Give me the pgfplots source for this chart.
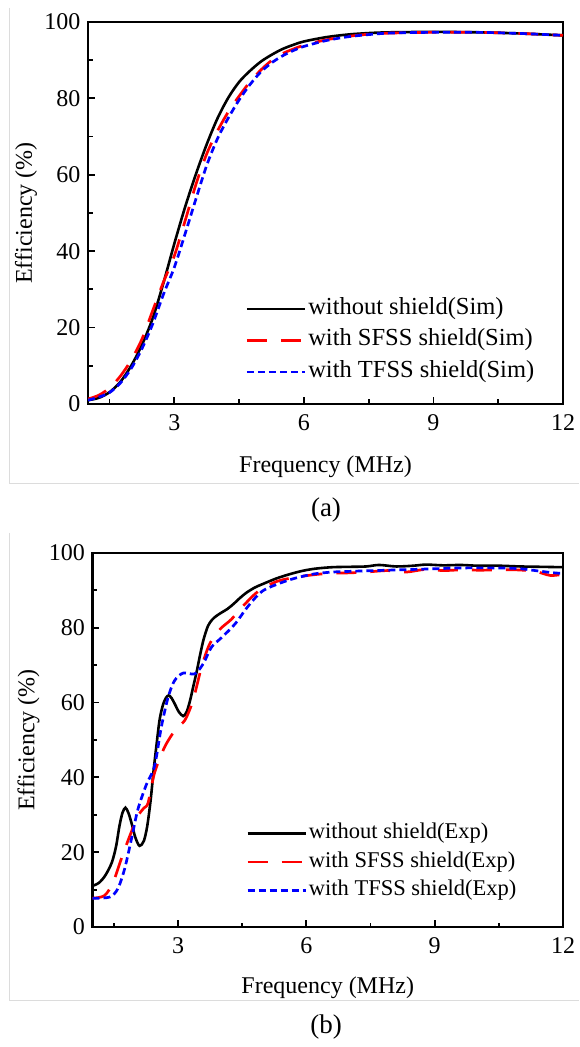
\documentclass[border=0pt]{standalone}
\usepackage{fontspec}
\setmainfont{Liberation Serif}
\usepackage{pgfplots}
\pgfplotsset{compat=1.18}
\definecolor{framegray}{RGB}{220,220,220}
\pgfplotsset{
 effax/.style={
  scale only axis, xmin=1, xmax=12, ymin=0, ymax=100,
  xtick={3,6,9,12}, ytick={0,20,...,100},
  minor xtick={1.5,4.5,7.5,10.5}, minor ytick={10,30,50,70,90},
  xtick pos=lower, ytick pos=lower,
  tick align=inside, major tick length=7pt, minor tick length=4.5pt,
  every tick/.style={black, line width=1.8pt},
  axis line style={line width=2.8pt},
  tick label style={font=\fontsize{24}{28}\selectfont},
  xticklabel style={yshift=-7pt},
  yticklabel style={xshift=-4pt},
  /pgf/number format/assume math mode=true,
  label style={font=\fontsize{24}{28}\selectfont},
  xlabel={Frequency (MHz)}, ylabel={Efficiency (\%)},
  legend cell align=left,
  legend image code/.code={\draw[##1] (0pt,0pt) -- (58pt,0pt);},
 },
 blk/.style={black, line width=2.6pt, smooth},
 rd/.style={red, line width=2.7pt, smooth, dash pattern=on 20pt off 14pt},
 bl/.style={blue, line width=2.7pt, smooth, dash pattern=on 7pt off 4pt},
}
\begin{document}
\begin{tikzpicture}
\path (0pt,0pt) rectangle (579pt,1047pt);
% panel frames
\draw[framegray, line width=0.8pt] (9pt,1039pt) -- (9pt,564pt) -- (579pt,564pt);
\draw[framegray, line width=0.8pt] (9pt,514pt) -- (9pt,47pt) -- (579pt,47pt);
\node[font=\fontsize{27}{30}\selectfont] at (326pt,537pt) {(a)};
\node[font=\fontsize{27}{30}\selectfont] at (326pt,20pt) {(b)};

\begin{axis}[effax, width=475pt, height=382pt, at={(88pt,643pt)}, anchor=south west,
  xlabel style={at={([yshift=-63pt]axis description cs:0.5,0)}, anchor=center},
  ylabel style={at={([xshift=-62pt]axis description cs:0,0.5)}, anchor=center},
  legend style={draw=none, fill=none, at={(rel axis cs:0.325,0.29)}, anchor=north west,
    font=\fontsize{24.5}{28}\selectfont, row sep=4.5pt,
    nodes={inner ysep=2pt, text height=17pt, text depth=6pt}},
]
\addplot[blk] coordinates {(1.0,1.0) (1.25,1.6) (1.5,3.1) (1.75,5.8) (2.0,10) (2.25,15.5) (2.5,22.5) (2.75,31.8) (3.0,42) (3.25,51.6) (3.5,60.2) (3.75,68.0) (4.0,74.8) (4.25,80.2) (4.5,84.3) (4.75,87.2) (5.0,89.6) (5.25,91.4) (5.5,92.9) (5.75,94.0) (6.0,94.9) (6.5,96.0) (7.0,96.7) (7.5,97.1) (8.0,97.3) (9.0,97.4) (10.0,97.3) (11.0,97.0) (12.0,96.5)};
\addlegendentry{without shield(Sim)}
\addplot[rd] coordinates {(1.0,1.3) (1.25,2.3) (1.5,4.2) (1.75,7.3) (2.0,11.5) (2.25,17) (2.5,24.5) (2.75,32) (3.0,38.8) (3.25,48) (3.5,57.5) (3.75,65.5) (4.0,71.5) (4.25,76.5) (4.5,80.6) (4.75,84.3) (5.0,87.4) (5.25,89.9) (5.5,91.7) (5.75,92.9) (6.0,93.9) (6.5,95.3) (7.0,96.2) (7.5,96.8) (8.0,97.1) (9.0,97.3) (10.0,97.3) (11.0,97.0) (12.0,96.5)};
\addlegendentry{with SFSS shield(Sim)}
\addplot[bl] coordinates {(1.0,1.0) (1.25,1.8) (1.5,3.0) (1.75,5.5) (2.0,9.3) (2.25,14.5) (2.5,21) (2.75,28.8) (3.0,35.8) (3.25,44.6) (3.5,53.7) (3.75,62.5) (4.0,69.5) (4.25,74.9) (4.5,79.6) (4.75,83.6) (5.0,86.9) (5.25,89.3) (5.5,91.1) (5.75,92.5) (6.0,93.6) (6.5,95.1) (7.0,96.1) (7.5,96.7) (8.0,97.1) (9.0,97.3) (10.0,97.3) (11.0,97.0) (12.0,96.5)};
\addlegendentry{with TFSS shield(Sim)}
\end{axis}

\begin{axis}[effax, width=470.5pt, height=374pt, at={(92.5pt,120pt)}, anchor=south west,
  xlabel style={at={([yshift=-61pt]axis description cs:0.5,0)}, anchor=center},
  ylabel style={at={([xshift=-64pt]axis description cs:0,0.5)}, anchor=center},
  legend style={draw=none, fill=none, at={(rel axis cs:0.32,0.29)}, anchor=north west,
    font=\fontsize{22.5}{26}\selectfont, row sep=3pt,
    nodes={inner ysep=2pt, text height=16pt, text depth=5.5pt}},
]
\addplot[blk] coordinates {(1.0,11) (1.15,11.8) (1.3,13.8) (1.45,17.2) (1.55,21.5) (1.63,27) (1.7,30.5) (1.77,31.9) (1.84,30.5) (1.91,27.9) (2.0,24) (2.1,21.7) (2.2,23) (2.28,27) (2.36,34) (2.43,42) (2.5,49) (2.57,55.5) (2.65,59.5) (2.72,61.3) (2.78,61.9) (2.85,61.2) (2.93,59.5) (3.02,57.5) (3.12,56.4) (3.2,57.5) (3.28,60.5) (3.36,64.5) (3.44,68.5) (3.52,73) (3.6,77) (3.7,80.5) (3.8,82.2) (3.9,83.2) (4.02,84.1) (4.15,85.0) (4.3,86.4) (4.45,88) (4.6,89.4) (4.8,90.8) (5.0,91.8) (5.3,93.2) (5.6,94.3) (5.9,95.2) (6.2,95.8) (6.6,96.2) (7.0,96.3) (7.4,96.4) (7.7,96.8) (8.1,96.4) (8.5,96.6) (8.8,96.9) (9.2,96.7) (9.6,96.8) (10.0,96.6) (10.5,96.6) (11.0,96.4) (11.5,96.3) (12.0,96.2)};
\addlegendentry{without shield(Exp)}
\addplot[rd] coordinates {(1.0,7.7) (1.28,8.4) (1.48,11.9) (1.67,18.1) (1.87,24.3) (2.06,29.6) (2.2,31.8) (2.3,33.2) (2.45,41.2) (2.69,48.2) (2.96,53.1) (3.16,55.3) (3.35,60.6) (3.55,69.5) (3.74,75.7) (3.98,79.6) (4.25,82.3) (4.56,86.3) (4.88,89.8) (5.31,92.4) (5.75,93.5) (6.18,94.2) (6.6,94.6) (7.04,94.7) (7.5,95.0) (7.9,95.3) (8.33,94.9) (8.77,95.6) (9.2,95.3) (9.63,95.5) (10.05,95.4) (10.49,95.5) (10.9,95.5) (11.35,95.1) (11.7,94.0) (12,94.3)};
\addlegendentry{with SFSS shield(Exp)}
\addplot[bl] coordinates {(1.0,7.7) (1.4,8.0) (1.59,10.2) (1.75,15.5) (1.91,23.5) (2.06,31.4) (2.26,38.1) (2.45,43) (2.61,53.5) (2.77,61.5) (2.92,65.9) (3.12,67.9) (3.39,67.7) (3.59,70.4) (3.78,74.8) (4.02,77.4) (4.33,81) (4.64,85.8) (4.97,89.8) (5.4,92) (5.75,93.3) (6.18,94.4) (6.6,94.9) (7.04,95.1) (7.9,95.4) (8.77,95.7) (9.63,96) (10.49,96) (11.0,95.8) (11.35,95.3) (11.7,94.8) (12,94.5)};
\addlegendentry{with TFSS shield(Exp)}
\end{axis}
\end{tikzpicture}
\end{document}
